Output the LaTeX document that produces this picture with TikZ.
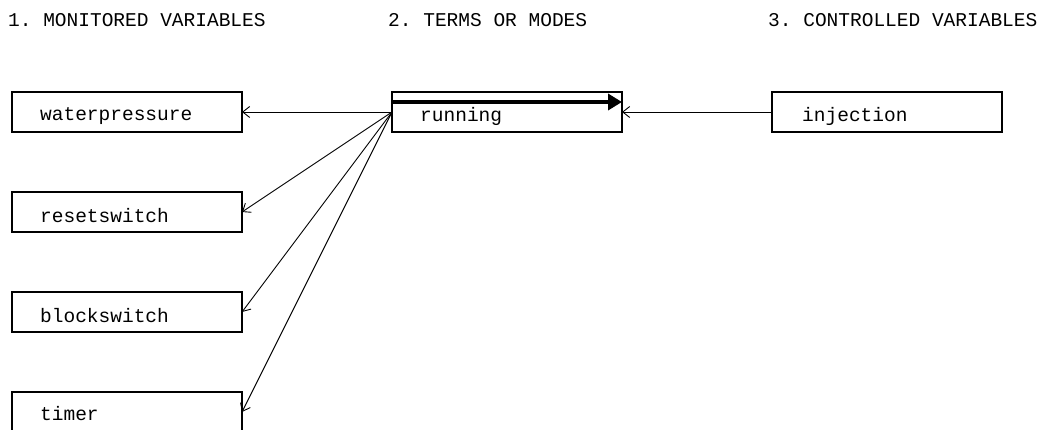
\documentclass[tikz,border=0pt]{standalone}
\usepackage{fontspec}
\setmonofont{Liberation Mono}
\usetikzlibrary{arrows.meta}
\tikzset{
  vbox/.style={draw, line width=1.3pt, minimum width=230pt, minimum height=40pt, inner sep=0pt, outer sep=0pt, anchor=north west},
  vtext/.style={anchor=west, inner sep=0pt, font=\ttfamily\fontsize{19.5}{20}\selectfont},
  hdr/.style={anchor=west, inner sep=0pt, font=\ttfamily\fontsize{19.5}{20}\selectfont},
  link/.style={line width=0.9pt, -{Straight Barb[length=7pt,width=11pt,line width=0.9pt]}},
  thickarrow/.style={line width=4.5pt, -{Triangle[length=14pt,width=16pt]}}
}
\begin{document}
\begin{tikzpicture}[x=1pt,y=-1pt]
\useasboundingbox (0,0) rectangle (1050,430);
\node[hdr] (h1) at (8,20) {1. MONITORED VARIABLES};
\node[hdr] (h2) at (388,20) {2. TERMS OR MODES};
\node[hdr] (h3) at (768,20) {3. CONTROLLED VARIABLES};

\node[vbox] (wp) at (12,92) {};
\node[vbox] (rs) at (12,192) {};
\node[vbox] (bs) at (12,292) {};
\node[vbox] (tm) at (12,392) {};
\node[vbox] (run) at (392,92) {};
\node[vbox] (inj) at (772,92) {};

\node[vtext] (twp) at (40,116) {waterpressure};
\node[vtext] (trs) at (40,216) {resetswitch};
\node[vtext] (tbs) at (40,316) {blockswitch};
\node[vtext] (ttm) at (40,414) {timer};
\node[vtext] (trun) at (420,116) {running};
\node[vtext] (tinj) at (802,116) {injection};

\draw[link] (run.west) -- (wp.east);
\draw[link] (run.west) -- (rs.east);
\draw[link] (run.west) -- (bs.east);
\draw[link] (run.west) -- (tm.east);
\draw[link] (inj.west) -- (run.east);
\draw[thickarrow] ([yshift=-10pt]run.north west) -- ([yshift=-10pt]run.north east);
\end{tikzpicture}
\end{document}
